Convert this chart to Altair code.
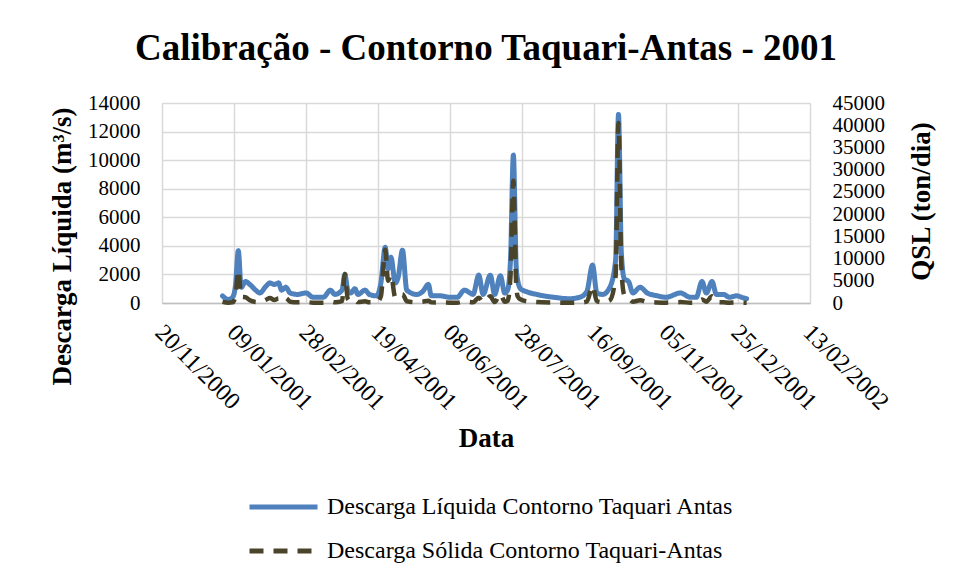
import altair as alt
import pandas as pd

# Day offsets from 01/01/2001 and values
days = [0, 4, 7, 9, 11, 13, 16, 19, 23, 26, 30, 33, 36, 39, 41, 44, 47, 52, 58, 63,
        70, 75, 78, 83, 85, 87, 89, 92, 94, 99, 102, 107, 110, 113, 115, 117, 120, 122, 125, 128,
        135, 139, 143, 145, 151, 158, 163, 168, 172, 174, 178, 181, 186, 189, 193, 196, 198, 200, 202, 204,
        205, 207, 211, 218, 230, 241, 248, 253, 257, 260, 264, 269, 273, 275, 277, 279, 282, 285, 290, 295,
        302, 308, 318, 325, 329, 333, 336, 340, 343, 348, 352, 357, 362, 364]
q_liq = [500, 250, 400, 1200, 3650, 1100, 1500, 1300, 900, 700, 1150, 1400, 1300, 1400, 900, 1100, 700, 600, 700, 400,
         400, 900, 600, 900, 2000, 900, 700, 1000, 600, 900, 600, 500, 1400, 3900, 2400, 3200, 1400, 1800, 3700, 900,
         600, 800, 1300, 500, 500, 400, 400, 900, 700, 600, 1950, 600, 1950, 600, 1900, 700, 900, 3000, 10350, 2500,
         1600, 1000, 800, 600, 400, 300, 400, 800, 2650, 700, 600, 1100, 3000, 13200, 3500, 1700, 1500, 700, 1100, 700,
         500, 400, 700, 400, 400, 1500, 700, 1500, 600, 600, 400, 500, 350, 300]
q_sol = [250, 60, 150, 1500, 7400, 1400, 1300, 600, 250, 200, 700, 1100, 700, 1000, 500, 1100, 300, 150, 200, 80,
         80, 300, 150, 400, 6500, 900, 300, 600, 200, 400, 150, 120, 1500, 12000, 5000, 6300, 1200, 1500, 2000, 400,
         150, 300, 500, 150, 120, 80, 80, 300, 200, 150, 1200, 200, 1500, 200, 2000, 300, 500, 6000, 27500, 4000,
         1500, 800, 400, 200, 80, 60, 80, 300, 3800, 400, 150, 600, 6000, 40500, 8000, 1800, 1000, 300, 600, 250,
         120, 80, 200, 80, 80, 800, 300, 1500, 200, 150, 80, 120, 60, 50]

L1 = "Descarga Líquida Contorno Taquari Antas"
L2 = "Descarga Sólida Contorno Taquari-Antas"

tick_dates = ["2000-11-20", "2001-01-09", "2001-02-28", "2001-04-19", "2001-06-08",
              "2001-07-28", "2001-09-16", "2001-11-05", "2001-12-25", "2002-02-13"]
left_ticks = [0, 2000, 4000, 6000, 8000, 10000, 12000, 14000]
right_ticks = [0, 5000, 10000, 15000, 20000, 25000, 30000, 35000, 40000, 45000]

start = pd.Timestamp("2001-01-01")
dates = [(start + pd.Timedelta(days=d)).strftime("%Y-%m-%d") for d in days]
df = pd.DataFrame({
    "date": dates * 2,
    "series": [L1] * len(days) + [L2] * len(days),
    "value": q_liq + q_sol,
})

FONT = "Liberation Serif"
TFS = 27

def dt(s):
    y, m, d = s.split("-")
    return alt.DateTime(year=int(y), month=int(m), date=int(d), utc=True)

xenc = alt.X(
    "date:T",
    scale=alt.Scale(type="utc", domain=[dt(tick_dates[0]), dt(tick_dates[-1])]),
    axis=alt.Axis(
        values=[dt(s) for s in tick_dates],
        labelExpr="utcFormat(datum.value, '%d/%m/%Y')",
        labelAngle=45, labelAlign="left", labelBaseline="top", labelPadding=17,
        labelOffset=5,
        labelFontSize=24, labelFont=FONT, labelColor="black",
        title="Data", titleFont=FONT, titleFontSize=TFS, titleFontWeight="bold",
        titleColor="black", titleY=122, titleBaseline="top",
        grid=True, gridColor="#d9d9d9", gridWidth=1.5,
        domain=True, domainColor="#bfbfbf", domainWidth=1.5, ticks=False, tickSize=0,
        labelOverlap=False,
    ),
)

leg = alt.Legend(
    title=None, orient="none", legendX=85, legendY=393, direction="vertical",
    symbolType="stroke", symbolSize=4624, symbolStrokeWidth=5, clipHeight=22,
    labelFont=FONT, labelFontSize=24, labelColor="black", rowPadding=20,
    labelOffset=7, labelLimit=700,
)

color = alt.Color(
    "series:N",
    scale=alt.Scale(domain=[L1, L2], range=["#4F81BD", "#4A442A"]),
    legend=leg,
)
dash = alt.StrokeDash(
    "series:N",
    scale=alt.Scale(domain=[L1, L2], range=[[1, 0], [14, 10]]),
    legend=leg,
)

base = alt.Chart(df)

liq = base.transform_filter(alt.datum.series == L1).mark_line(
    strokeWidth=5, interpolate="monotone", strokeCap="round", strokeJoin="round"
).encode(
    x=xenc,
    y=alt.Y("value:Q", scale=alt.Scale(domain=[0, 14000], nice=False),
            axis=alt.Axis(values=left_ticks, format="d", orient="left", grid=True, gridColor="#d9d9d9",
                          gridWidth=1.5, domain=False, ticks=False, tickSize=0, labelPadding=22,
                          labelFont=FONT, labelFontSize=21, labelColor="black",
                          title="Descarga Líquida (m³/s)", titleFont=FONT, titleFontSize=TFS,
                          titleFontWeight="bold", titleColor="black",
                          titleX=-100, titleY=143, titleAngle=-90, titleAlign="center",
                          titleBaseline="middle")),
    color=color,
    strokeDash=dash,
)

sol = base.transform_filter(alt.datum.series == L2).mark_line(
    strokeWidth=4.5, interpolate="monotone"
).encode(
    x=xenc,
    y=alt.Y("value:Q", scale=alt.Scale(domain=[0, 45000], nice=False),
            axis=alt.Axis(values=right_ticks, format="d", orient="right", grid=False, domain=False,
                          ticks=False, tickSize=0, labelPadding=22,
                          labelFont=FONT, labelFontSize=21, labelColor="black",
                          title="QSL (ton/dia)", titleFont=FONT, titleFontSize=TFS,
                          titleFontWeight="bold", titleColor="black",
                          titleX=111, titleY=98, titleAngle=-90, titleAlign="center",
                          titleBaseline="middle")),
    color=color,
    strokeDash=dash,
)

chart = alt.layer(liq, sol).resolve_scale(y="independent").properties(
    width=648, height=200,
    autosize=alt.AutoSizeParams(type="none"),
    padding={"left": 154, "top": 95, "right": 136, "bottom": 268},
    title=alt.TitleParams(
        "Calibração - Contorno Taquari-Antas - 2001", font=FONT, fontSize=37,
        fontWeight="bold", color="black", anchor="middle", offset=24,
    ),
).configure_view(stroke=None).configure(background="white")

chart.save("out.html", embed_options={"renderer": "svg", "actions": False})
